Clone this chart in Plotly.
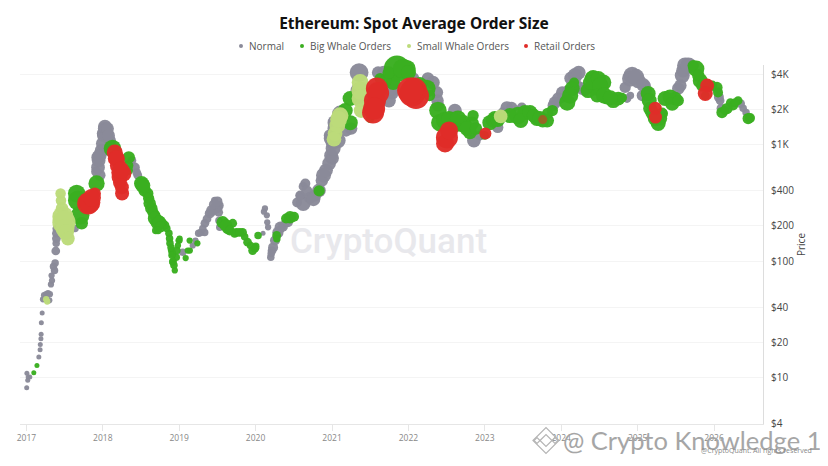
import plotly.graph_objects as go

# values
normal_dates = [
    "2017-01-02", "2017-01-03", "2017-01-07", "2017-01-09", "2017-01-17", "2017-03-01", "2017-03-07", "2017-03-08",
    "2017-03-11", "2017-03-12", "2017-03-13", "2017-03-17", "2017-03-21", "2017-03-26", "2017-04-08", "2017-04-23",
    "2017-04-28", "2017-05-01", "2017-05-10", "2017-05-18", "2017-05-21", "2017-05-23", "2017-05-24", "2017-05-26",
    "2017-08-21", "2017-12-18", "2017-12-09", "2017-12-10", "2017-12-27", "2018-01-06", "2018-01-10", "2018-01-18",
    "2018-02-03", "2018-06-03", "2018-06-17", "2019-01-18", "2019-03-07", "2019-04-04", "2019-05-03", "2019-05-04",
    "2019-05-27", "2019-06-20", "2019-06-28", "2019-07-09", "2019-07-14", "2020-02-06", "2020-02-15", "2020-02-24",
    "2020-03-01", "2020-03-14", "2020-03-20", "2020-03-25", "2020-04-28", "2020-05-22", "2020-07-18", "2020-08-16",
    "2020-08-02", "2020-08-26", "2020-09-18", "2020-10-11", "2020-11-21", "2021-01-01", "2021-01-06", "2020-12-22",
    "2021-01-15", "2021-01-30", "2021-02-09", "2021-04-02", "2021-05-10", "2021-05-05", "2021-08-09", "2021-10-15",
    "2021-10-20", "2022-01-23", "2022-04-04", "2022-05-17", "2022-05-22", "2022-08-11", "2022-11-10", "2022-12-09",
    "2023-03-04", "2023-04-16", "2023-12-02", "2024-01-06", "2024-03-08", "2024-03-22", "2024-11-11", "2024-11-02",
    "2024-12-05", "2025-01-03", "2025-02-06", "2025-01-23", "2025-07-14", "2025-08-02", "2025-08-16", "2026-01-30",
    "2026-02-03", "2026-05-20", "2026-06-03",
    "2017-05-03", "2017-05-15", "2017-05-24", "2017-04-05", "2017-04-14", "2017-04-20", "2017-12-12", "2017-12-17",
    "2018-01-01", "2018-01-05", "2018-01-11", "2018-01-24", "2018-01-29", "2018-02-08", "2017-11-30", "2018-05-20",
    "2018-06-12", "2019-03-20", "2019-04-14", "2019-04-24", "2019-05-14", "2019-06-06", "2019-06-16", "2019-07-03",
    "2019-07-09", "2019-07-10", "2020-02-10", "2020-02-26", "2020-03-16", "2020-04-03", "2020-04-17", "2020-05-11",
    "2020-06-04", "2020-08-01", "2020-08-15", "2020-09-02", "2020-10-04", "2020-10-30", "2020-11-13", "2020-12-03",
    "2020-12-18", "2020-12-27", "2021-01-06", "2020-12-28", "2021-01-15", "2021-03-09", "2021-05-05", "2021-09-05",
    "2021-09-30", "2021-10-15", "2022-04-28", "2022-05-20", "2023-03-27", "2023-05-10", "2023-06-27", "2023-11-24",
    "2023-12-19", "2024-01-06", "2024-02-03", "2024-02-18", "2024-03-25", "2024-04-09", "2024-04-24", "2024-11-26",
    "2024-12-24", "2025-01-27", "2025-02-15", "2024-11-27", "2025-07-24", "2025-08-06", "2025-09-01", "2026-01-24",
    "2026-05-08",
]
normal_price = [
    8.2, 10.9, 9.5, 10.1, 10.1, 15, 17.3, 19.2,
    21.6, 23.6, 29.5, 35.8, 47, 51, 50, 52,
    63, 75, 90, 96, 122, 142, 173, 190,
    190, 545, 635, 775, 890, 1195, 1370, 1240,
    1080, 635, 545, 119, 136, 173, 176, 211,
    256, 331, 289, 300, 195, 173, 283, 247,
    195, 108, 123, 131, 195, 211, 318, 312,
    365, 463, 350, 365, 545, 765, 1040, 1195,
    1540, 1080, 1840, 1370, 4140, 2900, 4140, 2735,
    3680, 3680, 3680, 2800, 2160, 1955, 1080, 1195,
    1400, 2080, 2290, 2520, 3900, 3200, 2480, 3090,
    3900, 3520, 3200, 2630, 3020, 3900, 4750, 2380,
    2050, 2050, 1880,
    68, 83, 156, 52, 53, 46, 730, 805,
    1020, 1240, 1425, 1370, 1195, 980, 585, 730,
    575, 150, 176, 190, 230, 272, 306, 325,
    262, 223, 265, 215, 116, 150, 176, 197,
    215, 365, 437, 400, 339, 403, 490, 600,
    690, 805, 925, 1125, 1370, 1320, 2480, 4140,
    2380, 3020, 3400, 2380, 1880, 2080, 2080, 2160,
    2480, 2790, 2900, 3700, 4140, 3020, 2900, 3680,
    3800, 3250, 2900, 2630, 3200, 4300, 4750, 2550,
    2240,
]
normal_weight = [
    4, 4, 4, 4, 4, 4, 4, 4,
    4, 4, 4, 4, 5, 5, 5, 5,
    5, 5, 6, 6, 7, 6, 7, 7,
    6, 9, 11, 11, 11, 11, 11, 11,
    10, 8, 7, 6, 5, 6, 6, 7,
    8, 6, 10, 8, 6, 4, 5, 5,
    5, 6, 7, 8, 9, 7, 8, 12,
    8, 8, 10, 10, 12, 11, 12, 10,
    12, 12, 13, 10, 15, 12, 10, 10,
    12, 10, 10, 10, 10, 11, 11, 8,
    9, 10, 10, 8, 12, 8, 7, 9,
    14, 12, 9, 9, 10, 12, 13, 7,
    7, 6, 6,
    5, 6, 7, 5, 5, 5, 11, 11,
    11, 11, 11, 10, 10, 9, 8, 7,
    7, 5, 6, 6, 7, 9, 8, 8,
    7, 6, 5, 5, 6, 8, 9, 8,
    8, 7, 7, 9, 11, 11, 10, 11,
    11, 11, 12, 12, 12, 10, 12, 11,
    11, 12, 11, 10, 8, 9, 8, 9,
    10, 10, 9, 11, 11, 10, 9, 13,
    13, 11, 8, 6, 10, 11, 13, 8,
    7,
]

big_dates = [
    "2017-02-05", "2017-02-20", "2017-09-04", "2017-08-29", "2017-09-14", "2017-09-22", "2017-12-02", "2018-02-16",
    "2018-05-05", "2018-05-01", "2018-07-05", "2018-07-20", "2018-08-04", "2018-08-21", "2018-09-06", "2018-09-21",
    "2018-10-15", "2018-10-25", "2018-09-11", "2018-11-13", "2018-11-18", "2018-11-26", "2018-11-30", "2018-12-11",
    "2018-12-02", "2018-12-18", "2018-12-29", "2019-01-03", "2019-02-01", "2019-02-11", "2019-02-20", "2019-02-21",
    "2019-03-29", "2019-07-28", "2019-08-21", "2019-09-14", "2019-09-23", "2019-10-31", "2019-11-24", "2019-12-29",
    "2020-01-13", "2020-04-11", "2020-04-12", "2020-06-14", "2020-10-31", "2021-03-28", "2021-03-29", "2021-03-05",
    "2021-07-02", "2021-08-19", "2021-11-07", "2021-10-20", "2021-12-25", "2021-09-12", "2022-03-30", "2022-05-22",
    "2022-05-31", "2022-08-02", "2022-08-11", "2022-09-18", "2022-11-01", "2022-10-22", "2022-12-31", "2023-01-25",
    "2023-02-18", "2023-06-08", "2023-07-11", "2023-09-07", "2023-10-05", "2023-10-29", "2024-01-30", "2024-02-23",
    "2024-03-03", "2024-05-28", "2024-05-09", "2024-06-12", "2024-06-02", "2024-07-20", "2024-08-08", "2024-09-06",
    "2024-09-30", "2025-02-20", "2025-03-01", "2025-04-09", "2025-05-02", "2025-05-12", "2025-06-29", "2025-10-08",
    "2025-10-27", "2025-11-30", "2026-01-15", "2026-01-20", "2026-02-08", "2026-03-04", "2026-04-02", "2026-04-26",
    "2026-06-13", "2026-06-22",
    "2018-05-03", "2018-07-11", "2018-08-08", "2018-08-13", "2018-08-28", "2018-09-06", "2018-09-28", "2018-10-04",
    "2018-09-22", "2018-11-03", "2018-11-16", "2018-11-23", "2018-11-28", "2018-12-02", "2018-12-07", "2018-12-21",
    "2018-12-26", "2019-01-03", "2019-08-12", "2019-08-31", "2019-10-02", "2019-10-17", "2019-11-10", "2019-12-08",
    "2019-12-18", "2020-01-02", "2020-05-26", "2020-07-03", "2021-09-29", "2021-12-06", "2022-01-01", "2022-02-24",
    "2022-04-12", "2022-06-24", "2022-07-13", "2022-08-26", "2022-10-08", "2022-11-20", "2022-11-06", "2023-02-08",
    "2023-03-04", "2023-05-01", "2023-06-22", "2023-08-05", "2023-08-23", "2023-09-21", "2023-10-26", "2023-11-20",
    "2024-02-13", "2024-05-20", "2024-06-27", "2024-07-06", "2024-06-21", "2024-07-25", "2024-08-23", "2024-10-18",
    "2025-02-25", "2025-03-11", "2025-03-26", "2025-04-19", "2025-04-28", "2025-06-05", "2025-06-15", "2025-07-14",
    "2025-09-23", "2025-10-18", "2025-11-06", "2025-11-20", "2025-12-23", "2026-02-22", "2026-03-20", "2026-04-12",
]
big_price = [
    11, 12.7, 331, 380, 247, 211, 463, 925,
    775, 600, 463, 403, 380, 283, 247, 215,
    211, 203, 183, 173, 142, 123, 116, 83,
    98, 108, 150, 150, 106, 123, 150, 123,
    142, 215, 190, 211, 173, 176, 145, 129,
    166, 166, 155, 237, 400, 2480, 1540, 1955,
    1670, 3680, 4470, 3400, 4470, 3500, 3020, 1955,
    1540, 1605, 1515, 1515, 1515, 1270, 1195, 1540,
    1670, 1770, 1880, 1670, 1605, 1850, 2290, 3020,
    3400, 3680, 2900, 3020, 3750, 3400, 2520, 2380,
    2480, 2735, 2035, 1515, 1840, 2480, 2480, 4470,
    3520, 3200, 3090, 2790, 1880, 2035, 2160, 2380,
    1670, 1690,
    660, 445, 345, 312, 262, 232, 215, 197,
    183, 190, 156, 131, 112, 99, 92, 123,
    136, 156, 203, 183, 176, 176, 162, 136,
    123, 134, 232, 240, 4140, 4470, 4140, 3270,
    2630, 1605, 1670, 1670, 1370, 1370, 1770, 1605,
    1640, 1770, 1605, 1880, 1770, 1670, 1605, 1955,
    2630, 3400, 3680, 3200, 2630, 2630, 2520, 2520,
    2380, 1880, 1670, 1670, 1880, 2560, 2230, 2380,
    4750, 3900, 3200, 2630, 3200, 1955, 2290, 2290,
]
big_weight = [
    4, 4, 16, 14, 15, 10, 13, 14,
    10, 8, 12, 10, 9, 10, 9, 12,
    7, 7, 6, 6, 6, 6, 6, 5,
    6, 6, 5, 5, 5, 5, 5, 5,
    5, 10, 9, 7, 7, 7, 7, 7,
    6, 7, 6, 10, 9, 12, 12, 12,
    7, 9, 21, 12, 14, 10, 14, 14,
    14, 14, 14, 14, 11, 11, 7, 12,
    12, 14, 12, 12, 11, 9, 13, 12,
    8, 12, 12, 11, 12, 13, 11, 12,
    11, 12, 11, 12, 8, 12, 11, 13,
    12, 10, 9, 8, 9, 9, 8, 7,
    9, 8,
    8, 12, 9, 10, 9, 11, 11, 9,
    6, 6, 6, 6, 6, 6, 6, 6,
    5, 5, 10, 8, 7, 7, 6, 6,
    7, 6, 8, 8, 10, 16, 12, 12,
    9, 14, 12, 13, 12, 10, 9, 11,
    12, 12, 12, 12, 11, 12, 11, 9,
    13, 12, 12, 13, 11, 13, 12, 8,
    12, 11, 12, 11, 8, 12, 11, 9,
    9, 10, 10, 7, 8, 7, 7, 7,
]

small_dates = [
    "2017-04-10", "2017-04-05", "2017-06-13", "2017-06-15", "2017-06-20", "2017-06-24", "2017-06-29", "2017-07-04",
    "2017-07-09", "2017-07-18", "2021-01-15", "2021-02-08", "2021-01-26", "2021-05-15", "2021-05-16", "2021-05-17",
    "2021-05-20", "2023-03-18", "2021-01-10", "2021-02-01",
]
small_price = [
    45, 47, 380, 331, 283, 240, 215, 190,
    176, 156, 1240, 1770, 1455, 3400, 2900, 2480,
    1955, 1740, 1110, 1640,
]
small_weight = [
    6, 6, 10, 10, 12, 20, 22, 18,
    15, 13, 14, 16, 15, 16, 17, 17,
    14, 13, 14, 16,
]

retail_dates = [
    "2017-10-23", "2017-10-31", "2017-11-24", "2017-11-10", "2018-02-27", "2018-03-04", "2018-03-14", "2018-03-23",
    "2018-04-07", "2018-03-24", "2018-04-03", "2021-08-03", "2021-07-25", "2021-07-16", "2022-01-27", "2022-02-06",
    "2022-01-18", "2022-07-04", "2022-06-25", "2022-07-14", "2023-01-04", "2023-10-05", "2025-03-26", "2025-03-27",
    "2025-11-29", "2025-11-20", "2018-03-22", "2018-04-02", "2018-03-09", "2018-03-28", "2021-08-09", "2021-07-21",
    "2022-01-09",
]
retail_price = [
    312, 318, 380, 350, 855, 760, 660, 575,
    565, 470, 380, 3020, 2380, 1880, 2900, 2600,
    2735, 1150, 1020, 1320, 1240, 1635, 2050, 1720,
    3200, 2735, 525, 430, 760, 600, 2760, 2035,
    2900,
]
retail_weight = [
    22, 21, 12, 18, 16, 16, 16, 17,
    17, 14, 14, 22, 22, 22, 26, 26,
    26, 22, 18, 18, 12, 9, 13, 13,
    14, 15, 16, 14, 16, 17, 22, 22,
    26,
]
retail_faded = ["2023-10-05"]

series_names = ["Normal", "Big Whale Orders", "Small Whale Orders", "Retail Orders"]
price_ticks = [4, 10, 20, 40, 100, 200, 400, 1000, 2000, 4000]
price_labels = ["$4", "$10", "$20", "$40", "$100", "$200", "$400", "$1K", "$2K", "$4K"]
year_ticks = ["2017-01-01", "2018-01-01", "2019-01-01", "2020-01-01", "2021-01-01",
              "2022-01-01", "2023-01-01", "2024-01-01", "2025-01-01", "2026-01-01"]
year_labels = ["2017", "2018", "2019", "2020", "2021", "2022", "2023", "2024", "2025", "2026"]

for a, b, c in [(normal_dates, normal_price, normal_weight), (big_dates, big_price, big_weight),
                (small_dates, small_price, small_weight), (retail_dates, retail_price, retail_weight)]:
    assert len(a) == len(b) == len(c), (len(a), len(b), len(c))

COLORS = ["#8a8a99", "#3aae20", "#bcdb7a", "#e02c28"]

# the page has an 8px body margin: subtract it from every position
OFF = 8
W, H = 828, 466
L, R, T, B = 12, 73, 57, 49.5


def px_x(x):
    return (x - OFF - L) / (W - L - R)


def px_y(y):
    return (H - B - (y - OFF)) / (H - T - B)


def bubbles(name, dates, price, weight, color, sizeref=1.0, opacity=0.97):
    return go.Scatter(x=dates, y=price, name=name, mode="markers", cliponaxis=False, showlegend=False,
                      marker=dict(color=color, size=weight, sizemode="diameter", sizeref=sizeref,
                                  opacity=opacity, line_width=0))


retail_opacity = [0.55 if d in retail_faded else 0.97 for d in retail_dates]

fig = go.Figure()
fig.add_trace(bubbles(series_names[0], normal_dates, normal_price, normal_weight, COLORS[0], sizeref=0.8))
fig.add_trace(bubbles(series_names[1], big_dates, big_price, big_weight, COLORS[1], sizeref=0.8))
fig.add_trace(bubbles(series_names[2], small_dates, small_price, small_weight, COLORS[2], sizeref=0.95))
fig.add_trace(bubbles(series_names[3], retail_dates, retail_price, retail_weight, COLORS[3], opacity=retail_opacity))

fig.update_layout(
    width=W, height=H, margin=dict(l=L, r=R, t=T, b=B),
    paper_bgcolor="white", plot_bgcolor="white", showlegend=False,
    font=dict(family="Open Sans", color="#444444", size=11),
    title=dict(text="<b>Ethereum: Spot Average Order Size</b>", x=(414 - OFF) / W, xanchor="center",
               y=1 - (24 - OFF) / H, yanchor="middle",
               font=dict(size=15.5, color="#111111", family="Noto Sans")),
    xaxis=dict(range=["2016-12-01", "2026-08-23"], tickvals=year_ticks, ticktext=year_labels, automargin=False,
               showgrid=False, zeroline=False, showline=True, linecolor="#e6e6e6", linewidth=1,
               ticks="outside", ticklen=6, tickcolor="#e6e6e6", tickfont=dict(size=8.5, color="#888888")),
    yaxis=dict(type="log", range=[0.602, 3.682], side="right", tickvals=price_ticks, ticktext=price_labels, automargin=False,
               showgrid=True, gridcolor="#f4f4f4", zeroline=False, showline=True, linecolor="#dddddd", linewidth=1,
               ticks="outside", ticklen=5, tickcolor="white",
               tickfont=dict(size=10, color="#444444"),
               title=dict(text="Price", font=dict(size=10, color="#444444"), standoff=4)),
)

# legend row: the dots sit closer to their labels than a plotly legend allows
legend_text_x = [250, 311, 418, 535]
for name, color, tx in zip(series_names, COLORS, legend_text_x):
    fig.add_annotation(text=name, xref="paper", yref="paper", x=px_x(tx), y=px_y(46), xanchor="left", yanchor="middle",
                       xshift=-3, showarrow=False, font=dict(size=10, color="#555555"))
    fig.add_shape(type="circle", xref="paper", yref="paper", x0=px_x(tx - 11), x1=px_x(tx - 7), y0=px_y(48), y1=px_y(44),
                  fillcolor=color, line_width=0)

fig.add_annotation(text="CryptoQuant", xref="paper", yref="paper", x=px_x(388), y=px_y(242), xanchor="center", yanchor="middle",
                   showarrow=False, font=dict(size=35, color="#e8e8ec", family="Roboto", weight=500))
fig.add_annotation(text="@ Crypto Knowledge 1", xref="paper", yref="paper", x=px_x(692), y=px_y(441), xanchor="center", yanchor="middle",
                   showarrow=False, font=dict(size=25.5, color="#a6a6a6", family="Lato"))
fig.add_annotation(text="@CryptoQuant. All rights reserved", xref="paper", yref="paper", x=px_x(756), y=px_y(451), xanchor="center", yanchor="middle",
                   showarrow=False, font=dict(size=7, color="#888888"))

# diamond logo in the corner watermark
for cx, cy, r in [(546, 441, 13), (546, 441, 6), (537, 441, 3), (555, 441, 3)]:
    fig.add_shape(type="path", xref="paper", yref="paper",
                  path=f"M {px_x(cx - r)} {px_y(cy)} L {px_x(cx)} {px_y(cy - r)} L {px_x(cx + r)} {px_y(cy)} L {px_x(cx)} {px_y(cy + r)} Z",
                  line=dict(color="#b5b5b5", width=1.2))

fig.write_html("out.html")
